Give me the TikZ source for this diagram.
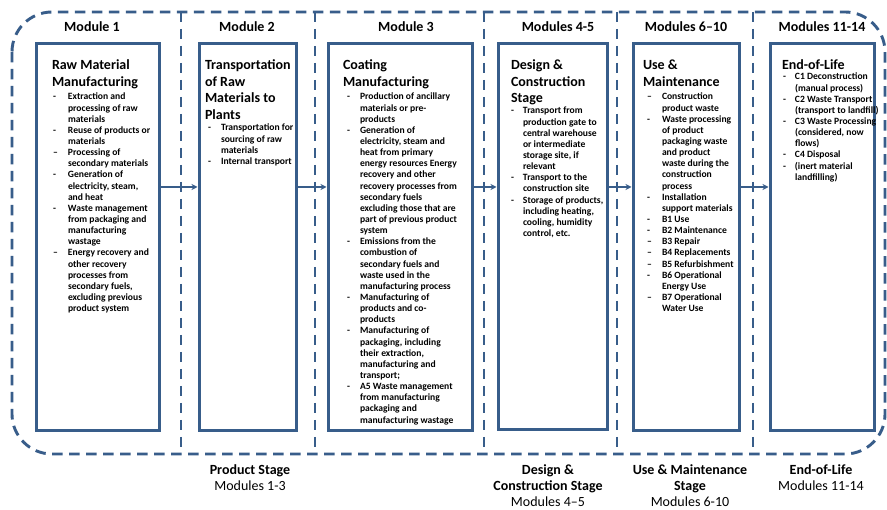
\documentclass[tikz,border=0pt]{standalone}
\usepackage{fontspec}
\setmainfont{Carlito}
\usetikzlibrary{arrows.meta}
\definecolor{dblue}{HTML}{385D8A}
\newcommand\bfsz{\fontsize{9.6}{11.14}\selectfont\bfseries}
\newcommand\tfsz{\fontsize{14}{16.5}\selectfont\bfseries}
\newcommand\lfsz{\fontsize{14}{16}\selectfont}
\newlength\dashw
\newcommand\bd{\makebox[\dashw][l]{-}}
\newcommand\bn{\makebox[\dashw][l]{\textendash}}
\newcommand\blist[2]{\setlength\dashw{#1}\bfsz\begin{tabular}[t]{@{}l@{}l@{}}#2\end{tabular}}
\newcommand\tlist[1]{\tfsz\begin{tabular}[t]{@{}l@{}}#1\end{tabular}}
\newcommand\clist[1]{\lfsz\begin{tabular}[t]{@{}c@{}}#1\end{tabular}}
\begin{document}
\begin{tikzpicture}[x=1pt,y=-1pt,
  dashline/.style={draw=dblue, line width=2.9pt, dash pattern=on 10.5pt off 6.5pt},
  box/.style={draw=dblue, line width=3pt, inner sep=0pt, outer sep=0pt, anchor=north west},
  arr/.style={draw=dblue, line width=2pt, shorten >=1.5pt, -{Stealth[length=6pt,width=6pt]}},
  txt/.style={inner sep=0pt, outer sep=0pt, anchor=base west},
  hdr/.style={inner sep=0pt, outer sep=0pt, anchor=base, font=\fontsize{14}{16}\selectfont\bfseries},
  lab/.style={inner sep=0pt, outer sep=0pt, anchor=base}]
\useasboundingbox (0,0) rectangle (887,510);
\fill[white] (0,0) rectangle (887,510);
% outer dashed frame and separators
\draw[dashline, rounded corners=40pt] (12,12) rectangle (885,454);
\draw[dashline] (181,12) -- (181,454);
\draw[dashline] (315,12) -- (315,454);
\draw[dashline] (484,12) -- (484,454);
\draw[dashline] (617,12) -- (617,454);
\draw[dashline] (753,12) -- (753,454);
% headers
\node[hdr] (h1) at (92,32) {Module 1};
\node[hdr] (h2) at (247,32) {Module 2};
\node[hdr] (h3) at (406,32) {Module 3};
\node[hdr] (h4) at (558,32) {Modules 4-5};
\node[hdr] (h5) at (686,32) {Modules 6\textendash10};
\node[hdr] (h6) at (822,32) {Modules 11-14};
% boxes
\node[box, minimum width=123pt, minimum height=387pt] (b1) at (36,44) {};
\node[box, minimum width=97pt, minimum height=387pt] (b2) at (199,44) {};
\node[box, minimum width=144pt, minimum height=387pt] (b3) at (328,44) {};
\node[box, minimum width=109pt, minimum height=386pt] (b4) at (498,44) {};
\node[box, minimum width=106pt, minimum height=387pt] (b5) at (633,44) {};
\node[box, minimum width=104pt, minimum height=387pt] (b6) at (770,44) {};
% arrows
\coordinate (ay) at (0,187);
\draw[arr] (b1.east |- ay) -- (b2.west |- ay);
\draw[arr] (b2.east |- ay) -- (b3.west |- ay);
\draw[arr] (b3.east |- ay) -- (b4.west |- ay);
\draw[arr] (b4.east |- ay) -- (b5.west |- ay);
\draw[arr] (b5.east |- ay) -- (b6.west |- ay);
% box 1
\node[txt] (t1) at (52,70) {\tlist{Raw Material\\Manufacturing}};
\node[txt] (l1) at (53,100) {\blist{15pt}{%
\bd&Extraction and\\ &processing of raw\\ &materials\\
\bd&Reuse of products or\\ &materials\\
\bn&Processing of\\ &secondary materials\\
\bd&Generation of\\ &electricity, steam,\\ &and heat\\
\bd&Waste management\\ &from packaging and\\ &manufacturing\\ &wastage\\
\bn&Energy recovery and\\ &other recovery\\ &processes from\\ &secondary fuels,\\ &excluding previous\\ &product system}};
% box 2
\node[txt] (t2) at (205,70) {\tlist{Transportation\\of Raw\\Materials to\\Plants}};
\node[txt] (l2) at (208,131) {\blist{13pt}{%
\bd&Transportation for\\ &sourcing of raw\\ &materials\\
\bd&Internal transport}};
% box 3
\node[txt] (t3) at (343,70) {\tlist{Coating\\Manufacturing}};
\node[txt] (l3) at (347,100) {\blist{13pt}{%
\bd&Production of ancillary\\ &materials or pre-\\ &products\\
\bd&Generation of\\ &electricity, steam and\\ &heat from primary\\ &energy resources Energy\\ &recovery and other\\ &recovery processes from\\ &secondary fuels\\ &excluding those that are\\ &part of previous product\\ &system\\
\bd&Emissions from the\\ &combustion of\\ &secondary fuels and\\ &waste used in the\\ &manufacturing process\\
\bd&Manufacturing of\\ &products and co-\\ &products\\
\bd&Manufacturing of\\ &packaging, including\\ &their extraction,\\ &manufacturing and\\ &transport;\\
\bd&A5 Waste management\\ &from manufacturing\\ &packaging and\\ &manufacturing wastage}};
% box 4
\node[txt] (t4) at (511,70) {\tlist{Design \&\\Construction\\Stage}};
\node[txt] (l4) at (511,114) {\blist{12pt}{%
\bd&Transport from\\ &production gate to\\ &central warehouse\\ &or intermediate\\ &storage site, if\\ &relevant\\
\bd&Transport to the\\ &construction site\\
\bd&Storage of products,\\ &including heating,\\ &cooling, humidity\\ &control, etc.}};
% box 5
\node[txt] (t5) at (643,70) {\tlist{Use \&\\Maintenance}};
\node[txt] (l5) at (647,100) {\blist{15pt}{%
\bn&Construction\\ &product waste\\
\bd&Waste processing\\ &of product\\ &packaging waste\\ &and product\\ &waste during the\\ &construction\\ &process\\
\bd&Installation\\ &support materials\\
\bd&B1 Use\\
\bd&B2 Maintenance\\
\bn&B3 Repair\\
\bn&B4 Replacements\\
\bn&B5 Refurbishment\\
\bd&B6 Operational\\ &Energy Use\\
\bn&B7 Operational\\ &Water Use}};
% box 6
\node[txt] (t6) at (782,70) {\tlist{End-of-Life}};
\node[txt] (l6) at (783,80) {\blist{12pt}{%
\bd&C1 Deconstruction\\ &(manual process)\\
\bd&C2 Waste Transport\\ &(transport to landfill)\\
\bd&C3 Waste Processing\\ &(considered, now\\ &flows)\\
\bd&C4 Disposal\\
\bd&(inert material\\ &landfilling)}};
% stage labels
\node[lab] (s1) at (250,475) {\clist{\textbf{Product Stage}\\Modules 1-3}};
\node[lab] (s2) at (548,475) {\clist{\textbf{Design \&}\\\textbf{Construction Stage}\\Modules 4\textendash5}};
\node[lab] (s3) at (690,475) {\clist{\textbf{Use \& Maintenance}\\\textbf{Stage}\\Modules 6-10}};
\node[lab] (s4) at (821,475) {\clist{\textbf{End-of-Life}\\Modules 11-14}};
\end{tikzpicture}
\end{document}
